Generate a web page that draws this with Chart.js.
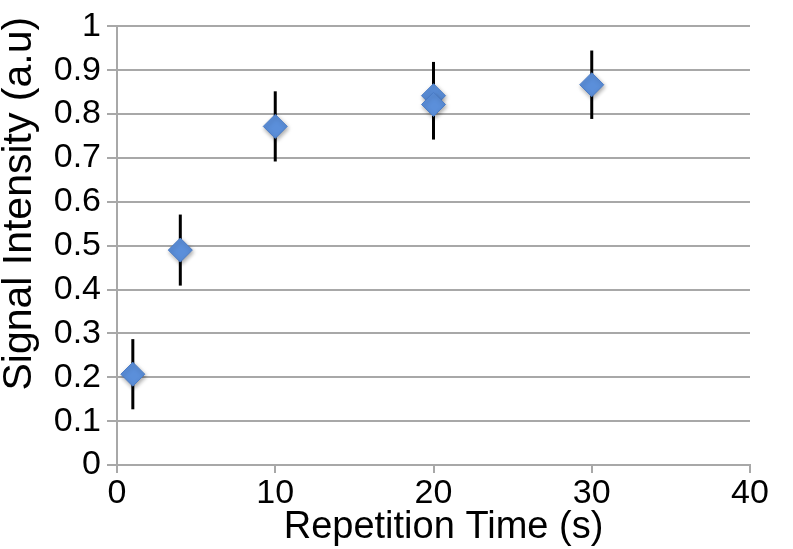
<!DOCTYPE html>
<html>
<head>
<meta charset="utf-8">
<script src="https://cdn.jsdelivr.net/npm/chart.js@4.4.1/dist/chart.umd.min.js"></script>
<style>
  html, body { margin: 0; padding: 0; background: #ffffff; }
  #wrap { width: 793px; height: 549px; position: relative; }
</style>
</head>
<body>
<div id="wrap"><canvas id="c" width="793" height="549"></canvas></div>
<script>
// Data
const repetitionTimes = [1, 4, 10, 20, 20, 30];
const signalIntensity = [0.207, 0.49, 0.772, 0.842, 0.822, 0.867];
const errorBars       = [0.08, 0.081, 0.08, 0.077, 0.08, 0.078];
const xTickValues = [0, 10, 20, 30, 40];
const yTickLabels = ['0', '0.1', '0.2', '0.3', '0.4', '0.5', '0.6', '0.7', '0.8', '0.9', '1'];
const xTitle = 'Repetition Time (s)';
const yTitle = 'Signal Intensity (a.u)';

const points = repetitionTimes.map((x, i) => ({ x: x, y: signalIntensity[i] }));

const FONT = "'Liberation Sans', Arial, Helvetica, sans-serif";
const gridColor = '#a8a8a8';

const errorBarPlugin = {
  id: 'errorBars',
  beforeDatasetsDraw(chart) {
    const ctx = chart.ctx;
    const xs = chart.scales.x, ys = chart.scales.y;
    ctx.save();
    ctx.strokeStyle = '#000000';
    ctx.lineWidth = 3;
    repetitionTimes.forEach((x, i) => {
      const px = xs.getPixelForValue(x);
      const top = ys.getPixelForValue(signalIntensity[i] + errorBars[i]);
      const bot = ys.getPixelForValue(signalIntensity[i] - errorBars[i]);
      ctx.beginPath();
      ctx.moveTo(px, top);
      ctx.lineTo(px, bot);
      ctx.stroke();
    });
    ctx.restore();
  }
};

const shadowPlugin = {
  id: 'pointShadow',
  beforeDatasetDraw(chart) {
    const ctx = chart.ctx;
    ctx.save();
    ctx.shadowColor = 'rgba(0,0,0,0.35)';
    ctx.shadowBlur = 4;
    ctx.shadowOffsetX = 1;
    ctx.shadowOffsetY = 2;
  },
  afterDatasetDraw(chart) {
    chart.ctx.restore();
  }
};

// Axis titles placed as in the reference (slightly off-centre there)
const axisTitlePlugin = {
  id: 'axisTitles',
  afterDraw(chart) {
    const ctx = chart.ctx;
    const area = chart.chartArea;
    ctx.save();
    ctx.fillStyle = '#000000';
    ctx.textAlign = 'center';
    ctx.textBaseline = 'alphabetic';
    ctx.font = '38px ' + FONT;
    ctx.fillText(xTitle, (area.left + area.right) / 2 + 10, 538);
    ctx.translate(31, (area.top + area.bottom) / 2 - 42);
    ctx.rotate(-Math.PI / 2);
    ctx.font = '41px ' + FONT;
    ctx.fillText(yTitle, 0, 0);
    ctx.restore();
  }
};

new Chart(document.getElementById('c'), {
  type: 'scatter',
  data: {
    datasets: [{
      data: points,
      pointStyle: 'rectRot',
      pointRadius: 12,
      pointHoverRadius: 12,
      backgroundColor: '#5b8fda',
      borderColor: '#4b7cc6',
      borderWidth: 1
    }]
  },
  options: {
    responsive: false,
    animation: false,
    events: [],
    layout: { padding: { top: 24, right: 43, left: 0, bottom: 0 } },
    plugins: {
      legend: { display: false },
      tooltip: { enabled: false }
    },
    scales: {
      x: {
        type: 'linear',
        min: 0,
        max: 40,
        afterBuildTicks(scale) {
          scale.ticks = xTickValues.map(v => ({ value: v }));
        },
        afterFit(scale) { scale.height = 84; },
        grid: {
          drawOnChartArea: false,
          drawTicks: true,
          tickLength: 8,
          color: gridColor,
          lineWidth: 2
        },
        border: { display: true, color: gridColor, width: 2 },
        ticks: {
          color: '#000000',
          font: { family: FONT, size: 34 },
          padding: 0,
          maxRotation: 0
        },
        title: { display: false }
      },
      y: {
        type: 'linear',
        min: 0,
        max: 1,
        ticks: {
          stepSize: 0.1,
          color: '#000000',
          font: { family: FONT, size: 34 },
          padding: 6,
          callback: (v, i) => yTickLabels[i]
        },
        afterFit(scale) { scale.width = 117; },
        grid: {
          color: gridColor,
          lineWidth: 2,
          tickLength: 10
        },
        border: { display: true, color: gridColor, width: 2 },
        title: { display: false }
      }
    }
  },
  plugins: [errorBarPlugin, shadowPlugin, axisTitlePlugin]
});
</script>
</body>
</html>
